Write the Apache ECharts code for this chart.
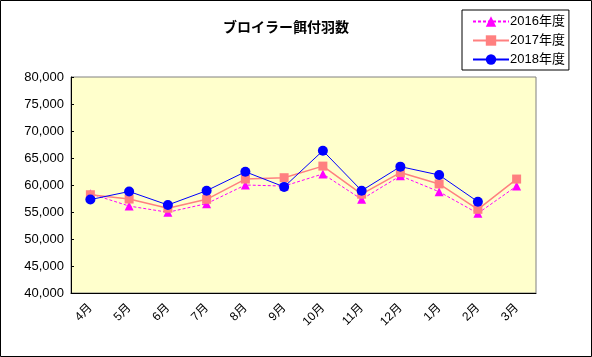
<!DOCTYPE html>
<html><head><meta charset="utf-8">
<script src="https://cdn.jsdelivr.net/npm/echarts@6/dist/echarts.min.js"></script>
<style>html,body{margin:0;padding:0;background:#fff}#c{width:592px;height:357px}</style>
</head><body><div id="c"></div>
<script>
const categories = ['4月','5月','6月','7月','8月','9月','10月','11月','12月','1月','2月','3月'];
const seriesNames = ['2016年度','2017年度','2018年度'];
const v2016 = [58400,56100,54950,56550,60000,59800,62050,57350,61700,58750,54750,59800];
const v2017 = [58200,57400,55700,57350,61100,61350,63500,58300,62300,60200,55500,61100];
const v2018 = [57300,58800,56300,58950,62450,59650,66350,58950,63400,61850,56900,null];
const yTicks = {min:40000, max:80000, interval:5000};

const FONT = '"Liberation Sans","Noto Sans CJK JP",sans-serif';
const chart = echarts.init(document.getElementById('c'), null, {renderer:'canvas'});
chart.setOption({
  animation:false,
  backgroundColor:'#fff',
  graphic:[{type:'rect', shape:{x:0.5,y:0.5,width:591,height:356}, style:{fill:'none',stroke:'#000',lineWidth:1}, z:-1}],
  title:{text:'ブロイラー餌付羽数', left:218, top:15,
    textStyle:{fontFamily:'"Noto Sans CJK JP",sans-serif', fontSize:14, fontWeight:'bold', color:'#000'}},
  legend:{orient:'vertical', left:462, top:10, padding:[5,4,4,10], itemGap:6,
    borderColor:'#000', borderWidth:1, backgroundColor:'#fff', borderRadius:0,
    itemWidth:36, itemHeight:13,
    textStyle:{fontFamily:FONT, fontSize:13, color:'#000', padding:[0,0,0,-4]},
    data:seriesNames},
  grid:{left:71, right:56, top:77, bottom:64, show:true, backgroundColor:'#FFFFCC', borderColor:'#808080', borderWidth:1},
  xAxis:{type:'category', data:categories, boundaryGap:true,
    axisLine:{lineStyle:{color:'#000',width:1}},
    axisTick:{inside:true, length:5, lineStyle:{color:'#000'}},
    axisLabel:{rotate:45, fontFamily:FONT, fontSize:12, color:'#000', margin:13, interval:0}},
  yAxis:{type:'value', min:yTicks.min, max:yTicks.max, interval:yTicks.interval,
    axisLine:{show:true, lineStyle:{color:'#000',width:1}},
    axisTick:{show:true, inside:true, length:3, lineStyle:{color:'#000'}},
    splitLine:{show:false},
    axisLabel:{fontFamily:FONT, fontSize:13, color:'#000', margin:7,
      formatter:v=>v.toLocaleString('en-US')}},
  series:[
    {name:seriesNames[0], type:'line', data:v2016, symbol:'triangle', symbolSize:9,
      lineStyle:{color:'#FF00FF', width:1, type:[3,2]}, itemStyle:{color:'#FF00FF'}, z:2},
    {name:seriesNames[1], type:'line', data:v2017, symbol:'rect', symbolSize:9,
      lineStyle:{color:'#FF8080', width:1.5}, itemStyle:{color:'#FF8080'}, z:3},
    {name:seriesNames[2], type:'line', data:v2018, symbol:'circle', symbolSize:10, connectNulls:false,
      lineStyle:{color:'#0000FF', width:1}, itemStyle:{color:'#0000FF'}, z:4}
  ]
});
</script></body></html>
